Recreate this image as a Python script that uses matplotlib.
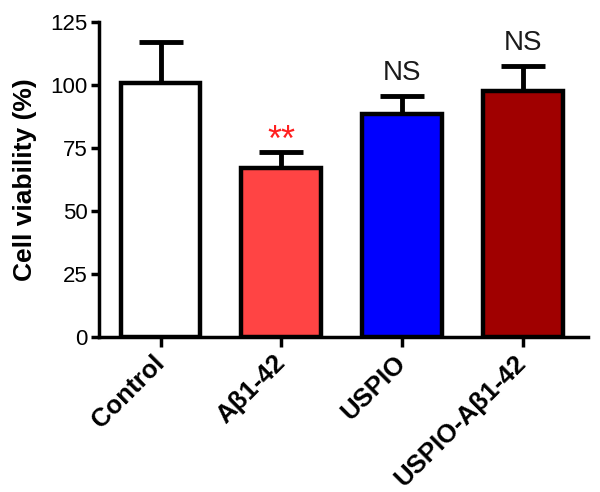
import matplotlib
matplotlib.use("Agg")
import matplotlib.pyplot as plt
import matplotlib.transforms as mtransforms
import numpy as np

groups = ["Control", "A\u03b21-42", "USPIO", "USPIO-A\u03b21-42"]
viability = [101, 67, 88.5, 97.5]
err = [16, 6.5, 7, 10]
colors = ["#ffffff", "#ff4444", "#0000ff", "#a00000"]
marks = ["", "**", "NS", "NS"]
mark_colors = ["black", "#ff2020", "#1a1a1a", "#1a1a1a"]

plt.rcParams["font.family"] = ["Liberation Sans", "DejaVu Sans"]

fig = plt.figure(figsize=(6, 4.92), dpi=100)
ax = fig.add_axes([0.165, 0.315, 0.815, 0.64])

x = np.arange(len(groups))
ax.bar(x, viability, width=0.66, color=colors, edgecolor="black", linewidth=3.2, zorder=3)
ax.errorbar(x, viability, yerr=[np.zeros(len(err)), err], fmt="none", ecolor="black",
            elinewidth=3.5, capsize=16, capthick=3.5, zorder=2)

# significance marks above the error bars
for xi, v, e, m, c in zip(x, viability, err, marks, mark_colors):
    if m == "**":
        ax.text(xi, v + e + 0.5, m, ha="center", va="baseline", fontsize=26, color=c)
    elif m:
        ax.text(xi, v + e + 4, m, ha="center", va="bottom", fontsize=20, color=c)

ax.set_xlim(-0.51, 3.54)
ax.set_ylim(0, 125)
ax.set_yticks([0, 25, 50, 75, 100, 125])
ax.set_xticks(x)
ax.set_xticklabels(groups, rotation=45, ha="right", va="center", rotation_mode="anchor",
                   fontweight="bold", fontsize=18.5)
shift = mtransforms.ScaledTranslation(0.04, 0, fig.dpi_scale_trans)
for lbl in ax.get_xticklabels():
    lbl.set_transform(lbl.get_transform() + shift)
ax.set_ylabel("Cell viability (%)", fontweight="bold", fontsize=19, labelpad=10)
ax.tick_params(axis="y", labelsize=16, width=2.5, length=6, pad=2)
ax.tick_params(axis="x", width=2.5, length=7, pad=9)
for s in ["top", "right"]:
    ax.spines[s].set_visible(False)
for s in ["left", "bottom"]:
    ax.spines[s].set_linewidth(2.5)

fig.savefig("out.png", dpi=100)
